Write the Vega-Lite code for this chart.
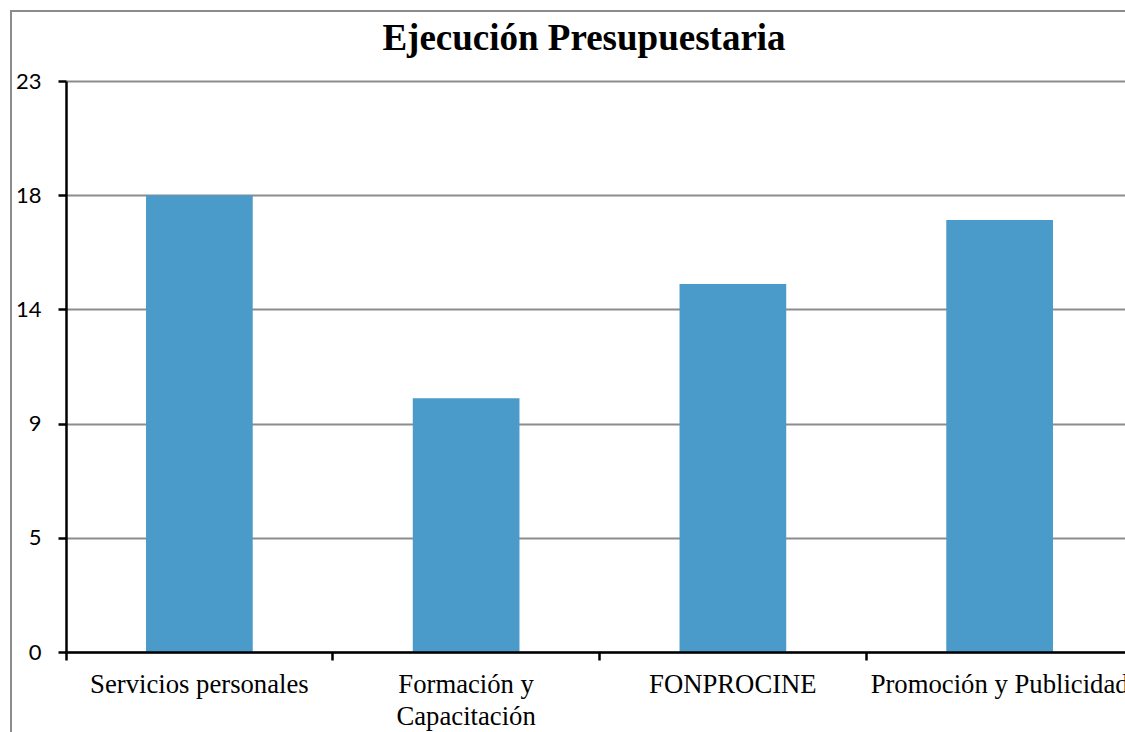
{
  "$schema": "https://vega.github.io/schema/vega-lite/v6.json",
  "width": 1114,
  "height": 721,
  "autosize": {"type": "none"},
  "padding": {"left": 11, "top": 11, "right": 0, "bottom": 0},
  "background": "white",
  "title": {
    "text": "Ejecución Presupuestaria",
    "font": "Liberation Serif",
    "fontSize": 37,
    "fontWeight": "bold",
    "color": "black",
    "anchor": "middle",
    "frame": "group",
    "dx": 16,
    "dy": 38,
    "baseline": "alphabetic",
    "offset": -38
  },
  "data": {
    "values": [
      {"categoria": "Servicios personales", "valor": 18.4},
      {"categoria": "Formación y Capacitación", "valor": 10.22},
      {"categoria": "FONPROCINE", "valor": 14.82},
      {"categoria": "Promoción y Publicidad", "valor": 17.4}
    ]
  },
  "mark": {"type": "bar", "color": "#4a9bca"},
  "encoding": {
    "x": {
      "field": "categoria",
      "type": "nominal",
      "sort": null,
      "scale": {"range": [55, 1122], "paddingInner": 0.6, "paddingOuter": 0.3},
      "axis": {
        "title": null,
        "orient": "bottom",
        "offset": -80,
        "grid": false,
        "domainColor": "black",
        "domainWidth": 2.5,
        "tickColor": "black",
        "tickWidth": 2.5,
        "tickSize": 8,
        "bandPosition": -0.75,
        "labelAngle": 0,
        "labelFont": "Liberation Serif",
        "labelFontSize": 26.7,
        "labelColor": "black",
        "labelPadding": 11,
        "labelLimit": 0,
        "labelOverlap": false,
        "labelLineHeight": 32,
        "labelExpr": "datum.label == 'Formación y Capacitación' ? ['Formación y', 'Capacitación'] : datum.label",
        "zindex": 1
      }
    },
    "y": {
      "field": "valor",
      "type": "quantitative",
      "scale": {"domain": [0, 23], "range": [641, 70], "nice": false, "zero": true},
      "axis": {
        "title": null,
        "offset": -55,
        "values": [0, 4.6, 9.2, 13.8, 18.4, 23],
        "format": ".0f",
        "grid": true,
        "gridColor": "#8c8c8c",
        "gridWidth": 2,
        "domainColor": "black",
        "domainWidth": 2.5,
        "tickColor": "black",
        "tickWidth": 2.5,
        "tickSize": 8,
        "labelFont": "Lato",
        "labelFontSize": 22,
        "labelColor": "black",
        "labelPadding": 17,
        "labelFlush": false
      }
    }
  },
  "config": {
    "view": {"stroke": "#8c8c8c", "strokeWidth": 2, "strokeDash": [1114, 1835, 721]}
  }
}
